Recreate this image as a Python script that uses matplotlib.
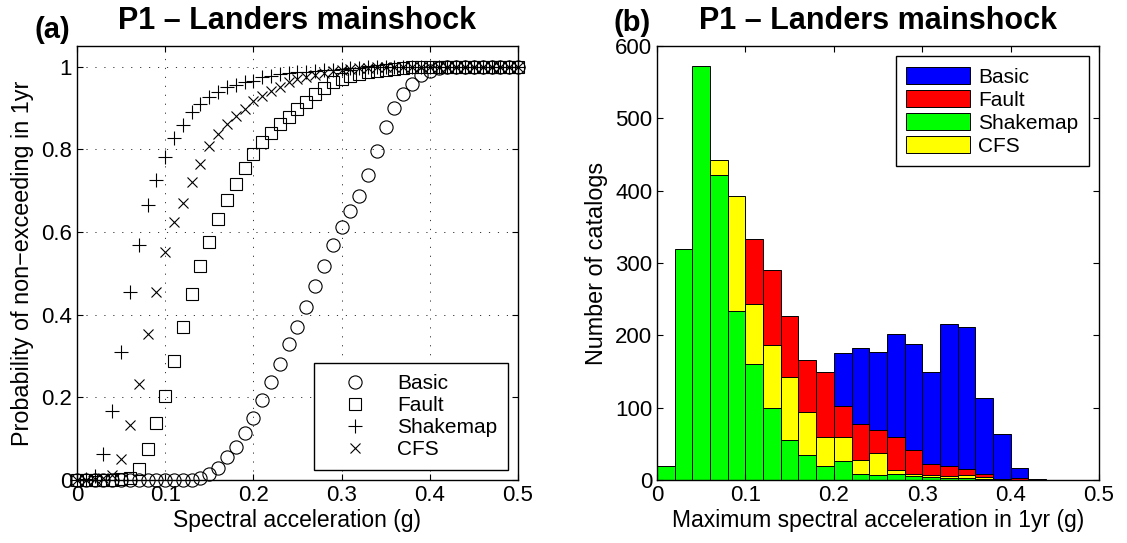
import numpy as np
import matplotlib
matplotlib.use("Agg")
import matplotlib.pyplot as plt
from matplotlib.patches import Patch

plt.rcParams['font.family'] = ['Liberation Sans', 'DejaVu Sans']
plt.rcParams['font.size'] = 16

# (a) probability of non-exceeding, sampled every 0.01 g
sa = np.round(np.arange(0, 0.501, 0.01), 2)

basic_cdf = [0, 0, 0, 0, 0, 0, 0, 0, 0, 0,
             0, 0, 0, 0, 0.006, 0.015, 0.029, 0.055, 0.079, 0.113,
             0.149, 0.193, 0.237, 0.281, 0.329, 0.370, 0.418, 0.470, 0.518, 0.568,
             0.612, 0.652, 0.688, 0.737, 0.796, 0.854, 0.900, 0.933, 0.958, 0.979,
             0.990, 0.996, 0.999, 1, 1, 1, 1, 1, 1, 1, 1]
fault_cdf = [0, 0, 0, 0, 0.001, 0.002, 0.006, 0.027, 0.074, 0.139,
             0.204, 0.289, 0.371, 0.450, 0.517, 0.575, 0.631, 0.677, 0.715, 0.756,
             0.789, 0.818, 0.839, 0.862, 0.878, 0.898, 0.914, 0.935, 0.948, 0.962,
             0.970, 0.977, 0.982, 0.986, 0.990, 0.993, 0.995, 0.997, 0.998, 0.999,
             1, 1, 1, 1, 1, 1, 1, 1, 1, 1, 1]
shake_cdf = [0, 0.002, 0.010, 0.063, 0.166, 0.310, 0.454, 0.569, 0.666, 0.727,
             0.782, 0.828, 0.858, 0.890, 0.910, 0.926, 0.938, 0.950, 0.956, 0.962,
             0.966, 0.974, 0.978, 0.982, 0.984, 0.986, 0.988, 0.990, 0.992, 0.993,
             0.995, 0.996, 0.997, 0.998, 0.998, 0.999, 1, 1, 1, 1,
             1, 1, 1, 1, 1, 1, 1, 1, 1, 1, 1]
cfs_cdf = [0, 0, 0.002, 0.005, 0.013, 0.051, 0.133, 0.232, 0.354, 0.454,
           0.552, 0.623, 0.671, 0.721, 0.765, 0.807, 0.838, 0.862, 0.880, 0.898,
           0.916, 0.930, 0.942, 0.952, 0.962, 0.970, 0.976, 0.981, 0.985, 0.989,
           0.992, 0.994, 0.996, 0.997, 0.998, 0.999, 1, 1, 1, 1,
           1, 1, 1, 1, 1, 1, 1, 1, 1, 1, 1]

# (b) histogram counts, bins of 0.02 g from 0 to 0.44
bin_edges = np.round(np.arange(0, 0.441, 0.02), 2)
basic_counts = [0, 0, 0, 0, 0, 0, 12, 46, 100, 140, 176, 182, 177, 202, 188, 150, 216, 212, 114, 63, 17, 2]
fault_counts = [0, 2, 10, 136, 260, 333, 291, 227, 166, 149, 102, 77, 69, 60, 41, 22, 20, 15, 9, 1, 3, 0]
shake_counts = [20, 319, 572, 421, 234, 160, 100, 56, 35, 20, 26, 9, 7, 8, 5, 4, 3, 3, 1, 0, 0, 0]
cfs_counts = [3, 23, 240, 443, 392, 243, 186, 142, 94, 60, 59, 27, 37, 14, 9, 7, 6, 7, 4, 0, 0, 0]

title = 'P1 \u2013 Landers mainshock'
ticks_x = [0, 0.1, 0.2, 0.3, 0.4, 0.5]
ticklabels_x = ['0', '0.1', '0.2', '0.3', '0.4', '0.5']

fig = plt.figure(figsize=(11.27, 5.43), dpi=100)
ax1 = fig.add_axes([0.0683, 0.116, 0.3913, 0.7993])
ax2 = fig.add_axes([0.583, 0.116, 0.3922, 0.7993])

# ---- panel (a)
mk = dict(linestyle='none', color='k', mfc='none', mew=0.8, clip_on=False)
ax1.plot(sa, basic_cdf, marker='o', ms=9.5, label='Basic', **mk)
ax1.plot(sa, fault_cdf, marker='s', ms=8, label='Fault', **mk)
ax1.plot(sa, shake_cdf, marker='+', ms=10, label='Shakemap', **mk)
ax1.plot(sa, cfs_cdf, marker='x', ms=7, label='CFS', **mk)
ax1.set_xlim(0, 0.5)
ax1.set_ylim(0, 1.05)
ax1.set_xticks(ticks_x)
ax1.set_xticklabels(ticklabels_x)
ax1.set_yticks([0, 0.2, 0.4, 0.6, 0.8, 1])
ax1.set_yticklabels(['0', '0.2', '0.4', '0.6', '0.8', '1'])
ax1.grid(True, color='0.2', linestyle=(0, (1.2, 8)), linewidth=0.7)
ax1.set_xlabel('Spectral acceleration (g)', fontsize=16.5, labelpad=2)
ax1.set_ylabel('Probability of non\u2212exceeding in 1yr', fontsize=16.8, labelpad=5)
ax1.set_title(title, fontweight='bold', fontsize=22, pad=12)
leg1 = ax1.legend(loc='lower right', numpoints=1, fontsize=15, handlelength=3.0,
                  handletextpad=0.5, labelspacing=0.15, borderpad=0.5,
                  borderaxespad=0.5, fancybox=False, edgecolor='k', framealpha=1)
leg1.get_frame().set_linewidth(1.0)

# ---- panel (b)
bw = 0.02
left = bin_edges[:-1]
bk = dict(width=bw, align='edge', edgecolor='k', linewidth=0.7)
ax2.bar(left, basic_counts, color='#0000ff', **bk)
ax2.bar(left, fault_counts, color='#ff0000', **bk)
ax2.bar(left, cfs_counts, color='#ffff00', **bk)
ax2.bar(left, shake_counts, color='#00ff00', **bk)
ax2.set_xlim(0, 0.5)
ax2.set_ylim(0, 600)
ax2.set_xticks(ticks_x)
ax2.set_xticklabels(ticklabels_x)
ax2.set_yticks(range(0, 601, 100))
ax2.set_xlabel('Maximum spectral acceleration in 1yr (g)', fontsize=16.5, labelpad=2)
ax2.set_ylabel('Number of catalogs', fontsize=16.8, labelpad=5)
ax2.set_title(title, fontweight='bold', fontsize=22, pad=12)
handles = [Patch(facecolor='#0000ff', edgecolor='k', lw=0.7),
           Patch(facecolor='#ff0000', edgecolor='k', lw=0.7),
           Patch(facecolor='#00ff00', edgecolor='k', lw=0.7),
           Patch(facecolor='#ffff00', edgecolor='k', lw=0.7)]
leg2 = ax2.legend(handles, ['Basic', 'Fault', 'Shakemap', 'CFS'], loc='upper right',
                  fontsize=15, handlelength=3.05, handleheight=0.9, handletextpad=0.4,
                  labelspacing=0.15, borderpad=0.5, borderaxespad=0.5,
                  fancybox=False, edgecolor='k', framealpha=1)
leg2.get_frame().set_linewidth(1.0)

for ax in (ax1, ax2):
    ax.tick_params(direction='in', top=True, right=True, length=4, width=0.8,
                   labelsize=16)
    for s in ax.spines.values():
        s.set_linewidth(1.0)

fig.text(0.031, 1 - 38 / 543, '(a)', fontweight='bold', fontsize=21, va='baseline')
fig.text(0.544, 1 - 31 / 543, '(b)', fontweight='bold', fontsize=21, va='baseline')

fig.savefig('out.png', dpi=100)
